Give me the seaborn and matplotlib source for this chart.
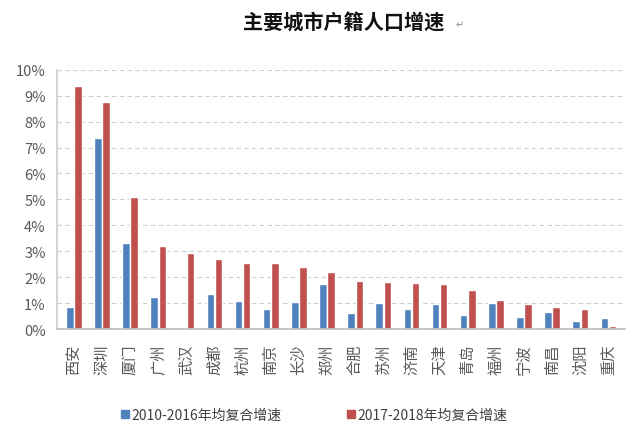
import matplotlib
matplotlib.use("Agg")
import matplotlib.pyplot as plt
import seaborn as sns
import pandas as pd
from matplotlib.ticker import FuncFormatter
from matplotlib.lines import Line2D

cities = ["西安", "深圳", "厦门", "广州", "武汉", "成都", "杭州", "南京", "长沙", "郑州",
          "合肥", "苏州", "济南", "天津", "青岛", "福州", "宁波", "南昌", "沈阳", "重庆"]
s1_name = "2010-2016年均复合增速"
s2_name = "2017-2018年均复合增速"
s1 = [0.86, 7.37, 3.32, 1.24, 0.0, 1.35, 1.09, 0.76, 1.05, 1.73,
      0.62, 1.01, 0.76, 0.95, 0.55, 1.01, 0.46, 0.65, 0.32, 0.42]
s2 = [9.38, 8.76, 5.10, 3.22, 2.94, 2.71, 2.54, 2.54, 2.40, 2.20,
      1.87, 1.83, 1.77, 1.73, 1.51, 1.12, 0.97, 0.86, 0.76, 0.13]
yticks = list(range(0, 11))

df = pd.DataFrame({
    "city": cities * 2,
    "series": [s1_name] * len(cities) + [s2_name] * len(cities),
    "value": s1 + s2,
})

sns.set_theme(style="white")
plt.rcParams['font.family'] = ['Noto Sans CJK SC', 'DejaVu Sans']

blue = "#4F81BD"
red = "#C0504D"

fig = plt.figure(figsize=(6.4, 4.39), dpi=100)
ax = fig.add_axes([0.089, 0.248, 0.888, 0.591])

sns.barplot(data=df, x="city", y="value", hue="series", order=cities,
            hue_order=[s1_name, s2_name], palette=[blue, red],
            width=0.58, gap=0.08, ax=ax, legend=False, saturation=1)

ax.set_ylim(0, 10)
ax.set_xlim(-0.6, len(cities) - 0.4)
ax.set_yticks(yticks)
ax.yaxis.set_major_formatter(FuncFormatter(lambda v, p: f"{int(v)}%"))
ax.set_xlabel("")
ax.set_ylabel("")
ax.grid(axis="y", color="#D0D0D0", linestyle=(0, (4, 3)), linewidth=0.8)
ax.set_axisbelow(True)
for s in ["top", "right"]:
    ax.spines[s].set_visible(False)
ax.spines["left"].set_color("#D0D0D0")
ax.spines["bottom"].set_color("#BFBFBF")
ax.tick_params(axis="y", labelsize=10.5, colors="#595959", length=0, pad=8)
ax.tick_params(axis="x", labelsize=11, colors="#595959", length=0, pad=10)
for lab in ax.get_xticklabels():
    lab.set_rotation(90)

fig.text(0.537, 0.948, "主要城市户籍人口增速", ha="center", va="center",
         fontsize=14.5, fontweight="bold", color="#111111")
fig.text(0.712, 0.942, "↵", ha="left", va="center", fontsize=7, color="#888888",
         family=['DejaVu Sans'])

handles = [Line2D([0], [0], marker="s", linestyle="", markersize=6, color=blue),
           Line2D([0], [0], marker="s", linestyle="", markersize=6, color=red)]
leg = fig.legend(handles, [s1_name, s2_name], loc="center", bbox_to_anchor=(0.49, 0.052),
                 ncol=2, frameon=False, fontsize=10, handletextpad=0.05,
                 columnspacing=4.6, handlelength=0.8)
for t in leg.get_texts():
    t.set_color("#404040")

fig.savefig("out.png", dpi=100)
